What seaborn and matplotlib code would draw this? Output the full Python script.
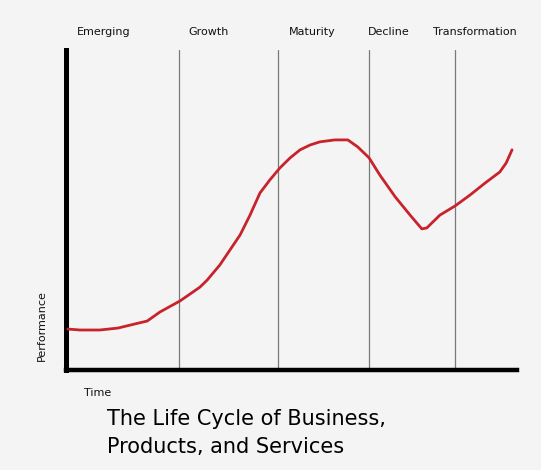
import numpy as np
import pandas as pd
import seaborn as sns
import matplotlib.pyplot as plt

# stage boundaries and labels (time units, 0-100)
stages = ['Emerging', 'Growth', 'Maturity', 'Decline', 'Transformation']
stage_label_x = [8.4, 31.5, 54.5, 71.6, 90.7]
stage_bounds = [25.1, 47.0, 67.2, 86.3]

# hand-drawn performance curve
time = [0.4, 3.1, 7.5, 11.5, 15.3, 18.0, 20.8, 25.3, 29.7, 31.3, 34.1, 38.6,
        40.8, 43.0, 45.2, 47.4, 49.7, 51.9, 54.1, 56.3, 59.6, 62.5, 64.7,
        67.2, 69.6, 73.0, 76.3, 78.9, 80.0, 82.9, 86.3, 89.6, 92.9, 96.2,
        97.6, 98.9]
performance = [12.8, 12.5, 12.5, 13.1, 14.4, 15.3, 18.1, 21.6, 25.9, 28.1,
               32.8, 42.2, 48.4, 55.3, 59.4, 63.1, 66.3, 68.8, 70.3, 71.3,
               71.9, 71.9, 69.7, 66.3, 60.9, 54.1, 48.4, 44.1, 44.4, 48.4,
               51.3, 54.7, 58.4, 61.9, 64.7, 68.8]

df = pd.DataFrame({'time': time, 'performance': performance})

sns.set_style('white')
bg = '#f4f4f4'
fig = plt.figure(figsize=(5.41, 4.70), dpi=100, facecolor=bg)
ax = fig.add_axes([66/541, 1-370/470, (517-66)/541, 320/470])
ax.set_facecolor(bg)

for b in stage_bounds:
    ax.axvline(b, color='#7a7a7a', lw=0.9, zorder=1)

sns.lineplot(data=df, x='time', y='performance', color='#c8232c',
             lw=2, ax=ax, zorder=3)

ax.set_xlim(0, 100)
ax.set_ylim(0, 100)
ax.set_xticks([])
ax.set_yticks([])
ax.set_xlabel('')
ax.set_ylabel('')
for s in ['top', 'right']:
    ax.spines[s].set_visible(False)
ax.spines['left'].set_linewidth(3.6)
ax.spines['bottom'].set_linewidth(3.2)
ax.spines['left'].set_color('black')
ax.spines['bottom'].set_color('black')

for name, x in zip(stages, stage_label_x):
    ax.text(x, 1.056, name, transform=ax.get_xaxis_transform(),
            ha='center', va='center', fontsize=8, color='#111111')

ax.text(7.1, -0.072, 'Time', transform=ax.get_xaxis_transform(),
        ha='center', va='center', fontsize=8, color='#111111')
ax.text(-5.3, 0.14, 'Performance', transform=ax.get_xaxis_transform(),
        ha='center', va='center', rotation=90, fontsize=8, color='#111111')

fig.text(107/541, 1-409/470, 'The Life Cycle of Business,\nProducts, and Services',
         ha='left', va='top', fontsize=15, linespacing=1.5, color='black')

fig.savefig('out.png', dpi=100, facecolor=bg)
